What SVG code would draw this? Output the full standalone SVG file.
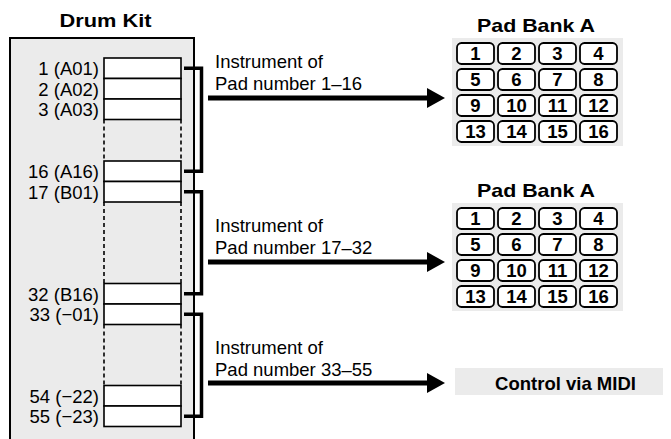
<svg xmlns="http://www.w3.org/2000/svg" width="671" height="439" viewBox="0 0 671 439">
<style>
.bg{fill:#fff}
.stip{fill:#ebebeb}
.frame{fill:#ebebeb;stroke:#000;stroke-width:2}
.row{fill:#fff;stroke:#000;stroke-width:1.6}
.dash{stroke:#000;stroke-width:1.6;stroke-dasharray:4 3;fill:none}
.lbl{font-family:"Liberation Sans",Arial,sans-serif;font-size:18.5px;fill:#000}
.rl{text-anchor:end}
.title{font-family:"Liberation Sans",Arial,sans-serif;font-size:19px;font-weight:bold;fill:#000;text-anchor:middle}
.pad{fill:#fff;stroke:#000;stroke-width:1.8}
.pn{font-family:"Liberation Sans",Arial,sans-serif;font-size:18.5px;font-weight:bold;fill:#000;text-anchor:middle}
.brk{fill:none;stroke:#000;stroke-width:3.5}
.shaft{stroke:#000;stroke-width:5}
</style>
<defs>
<g id="grid">
<rect class="stip" x="452" y="0" width="171" height="108"/>
<rect class="pad" x="457" y="5" width="37" height="21" rx="4.5"/>
<rect class="pad" x="498" y="5" width="37" height="21" rx="4.5"/>
<rect class="pad" x="539" y="5" width="37" height="21" rx="4.5"/>
<rect class="pad" x="580" y="5" width="37" height="21" rx="4.5"/>
<rect class="pad" x="457" y="31" width="37" height="21" rx="4.5"/>
<rect class="pad" x="498" y="31" width="37" height="21" rx="4.5"/>
<rect class="pad" x="539" y="31" width="37" height="21" rx="4.5"/>
<rect class="pad" x="580" y="31" width="37" height="21" rx="4.5"/>
<rect class="pad" x="457" y="57" width="37" height="21" rx="4.5"/>
<rect class="pad" x="498" y="57" width="37" height="21" rx="4.5"/>
<rect class="pad" x="539" y="57" width="37" height="21" rx="4.5"/>
<rect class="pad" x="580" y="57" width="37" height="21" rx="4.5"/>
<rect class="pad" x="457" y="83" width="37" height="21" rx="4.5"/>
<rect class="pad" x="498" y="83" width="37" height="21" rx="4.5"/>
<rect class="pad" x="539" y="83" width="37" height="21" rx="4.5"/>
<rect class="pad" x="580" y="83" width="37" height="21" rx="4.5"/>
<text class="pn" x="475.5" y="22.2">1</text>
<text class="pn" x="516.5" y="22.2">2</text>
<text class="pn" x="557.5" y="22.2">3</text>
<text class="pn" x="598.5" y="22.2">4</text>
<text class="pn" x="475.5" y="48.2">5</text>
<text class="pn" x="516.5" y="48.2">6</text>
<text class="pn" x="557.5" y="48.2">7</text>
<text class="pn" x="598.5" y="48.2">8</text>
<text class="pn" x="475.5" y="74.2">9</text>
<text class="pn" x="516.5" y="74.2">10</text>
<text class="pn" x="557.5" y="74.2">11</text>
<text class="pn" x="598.5" y="74.2">12</text>
<text class="pn" x="475.5" y="100.2">13</text>
<text class="pn" x="516.5" y="100.2">14</text>
<text class="pn" x="557.5" y="100.2">15</text>
<text class="pn" x="598.5" y="100.2">16</text>
</g>
</defs>
<rect class="bg" x="0" y="0" width="671" height="439"/>

<g id="drum-kit">
<text class="title" x="105.5" y="27" textLength="92" lengthAdjust="spacingAndGlyphs">Drum Kit</text>
<rect class="frame" x="10" y="38" width="184" height="420"/>
<rect class="row" x="104" y="58" width="77" height="20.5"/>
<rect class="row" x="104" y="78.5" width="77" height="20.5"/>
<rect class="row" x="104" y="99" width="77" height="20.5"/>
<path class="dash" d="M104 119.5 V161 M181 119.5 V161"/>
<rect class="row" x="104" y="161" width="77" height="20.5"/>
<rect class="row" x="104" y="181.5" width="77" height="20.5"/>
<path class="dash" d="M104 202 V283.5 M181 202 V283.5"/>
<rect class="row" x="104" y="283.5" width="77" height="20.5"/>
<rect class="row" x="104" y="304" width="77" height="20.5"/>
<path class="dash" d="M104 324.5 V385.5 M181 324.5 V385.5"/>
<rect class="row" x="104" y="385.5" width="77" height="20.5"/>
<rect class="row" x="104" y="406" width="77" height="20.5"/>
<text class="lbl rl" x="99" y="75">1 (A01)</text>
<text class="lbl rl" x="99" y="95.5">2 (A02)</text>
<text class="lbl rl" x="99" y="116">3 (A03)</text>
<text class="lbl rl" x="99" y="178">16 (A16)</text>
<text class="lbl rl" x="99" y="198.5">17 (B01)</text>
<text class="lbl rl" x="99" y="300.5">32 (B16)</text>
<text class="lbl rl" x="99" y="321">33 (−01)</text>
<text class="lbl rl" x="99" y="402.5">54 (−22)</text>
<text class="lbl rl" x="99" y="423">55 (−23)</text>
</g>

<g id="pad-bank-1">
<text class="title" x="536" y="32" textLength="118" lengthAdjust="spacingAndGlyphs">Pad Bank A</text>
<use href="#grid" transform="translate(0,38)"/>
</g>

<g id="pad-bank-2">
<text class="title" x="536" y="196.5" textLength="118" lengthAdjust="spacingAndGlyphs">Pad Bank A</text>
<use href="#grid" transform="translate(0,203)"/>
</g>

<g id="control-midi">
<rect class="stip" x="455" y="368" width="208" height="27"/>
<text class="title" x="565.5" y="389.5" style="font-size:18.5px">Control via MIDI</text>
</g>

<g id="connectors">
<path class="brk" d="M184 68.25 H201.5 V171.25 H184"/>
<path class="brk" d="M184 191.75 H201.5 V293.75 H184"/>
<path class="brk" d="M184 314.25 H201.5 V416.25 H184"/>
<line class="shaft" x1="208" y1="98" x2="430" y2="98"/>
<polygon points="427,88 445,98 427,108"/>
<line class="shaft" x1="208" y1="262" x2="430" y2="262"/>
<polygon points="427,252 445,262 427,272"/>
<line class="shaft" x1="208" y1="383" x2="430" y2="383"/>
<polygon points="427,373 445,383 427,393"/>
</g>

<g id="labels">
<text class="lbl" x="215" y="67.5">Instrument of</text>
<text class="lbl" x="215" y="90">Pad number 1–16</text>
<text class="lbl" x="215" y="231.5">Instrument of</text>
<text class="lbl" x="215" y="254">Pad number 17–32</text>
<text class="lbl" x="215" y="353.5">Instrument of</text>
<text class="lbl" x="215" y="376">Pad number 33–55</text>
</g>
</svg>
